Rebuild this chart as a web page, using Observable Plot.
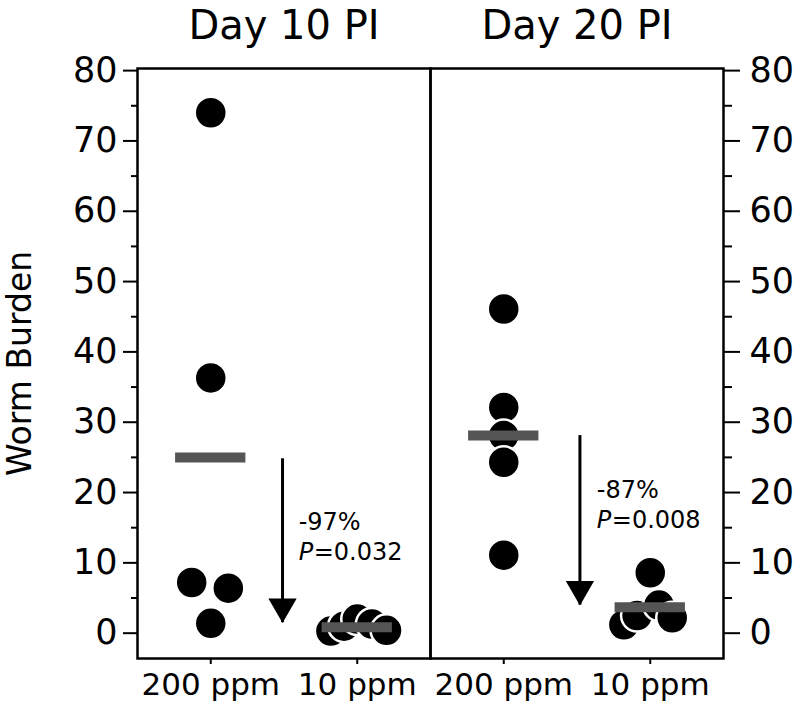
<!DOCTYPE html>
<html><head><meta charset="utf-8">
<script src="https://cdn.jsdelivr.net/npm/d3@7"></script>
<script src="https://cdn.jsdelivr.net/npm/@observablehq/plot@0.6"></script>
<style>body{margin:0;background:#fff} svg{font-family:"DejaVu Sans",sans-serif}</style>
</head><body><div id="chart"></div>
<script>
// ---- data ----
const days = ["Day 10 PI", "Day 20 PI"];
const doses = ["200 ppm", "10 ppm"];
const burdenD10_200 = [74, 36.3, 7.2, 6.4, 1.4];
const burdenD10_10 = [0.3, 1.0, 2.0, 1.3, 0.4];
const burdenD20_200 = [46.1, 32.1, 28.1, 24.3, 11.1];
const burdenD20_10 = [8.6, 1.2, 2.5, 4.0, 2.2];
// horizontal scatter of each dot within its group (in units of group spacing)
const jitterD10_200 = [0, 0, -0.13, 0.12, 0];
const jitterD10_10 = [-0.18, -0.09, 0, 0.1, 0.2];
const jitterD20_200 = [0, 0, 0, 0, 0];
const jitterD20_10 = [0, -0.18, -0.09, 0.06, 0.15];
const meansD10 = [25.0, 0.85];
const meansD20 = [28.1, 3.7];
const arrowTop = [24.8, 28.1];
const arrowTip = [1.5, 4.0];
const reductions = ["-97%", "-87%"];
const pValues = ["=0.032", "=0.008"];
const yTicks = [0, 10, 20, 30, 40, 50, 60, 70, 80];
const yMinorTicks = [5, 15, 25, 35, 45, 55, 65, 75];

// ---- tables ----
const groups = [
  [days[0], 0, burdenD10_200, jitterD10_200],
  [days[0], 1, burdenD10_10, jitterD10_10],
  [days[1], 0, burdenD20_200, jitterD20_200],
  [days[1], 1, burdenD20_10, jitterD20_10]
];
const points = groups.flatMap(([day, cat, vals, jit]) =>
  vals.map((v, i) => ({day, xpos: cat + jit[i], burden: v})));
const means = [
  {day: days[0], cat: 0, mean: meansD10[0]}, {day: days[0], cat: 1, mean: meansD10[1]},
  {day: days[1], cat: 0, mean: meansD20[0]}, {day: days[1], cat: 1, mean: meansD20[1]}
];
const arrows = days.map((day, i) => ({day, top: arrowTop[i], tip: arrowTip[i], red: reductions[i], p: pValues[i]}));
const annY1 = [15.8, 20.3];
const annY2 = [11.5, 16.1];
arrows.forEach((a, i) => { a.y1 = annY1[i]; a.y2 = annY2[i]; });

const arrowX = d => d.day === days[0] ? 0.49 : 0.52;
const textX = d => d.day === days[0] ? 0.60 : 0.635;

const chart = Plot.plot({
  width: 800, height: 720,
  marginLeft: 136, marginRight: 77, marginTop: 68, marginBottom: 62,
  style: {fontFamily: "DejaVu Sans", color: "black", background: "white"},
  fx: {domain: days, padding: 0, label: null},
  x: {domain: [-0.5, 1.5]},
  y: {domain: [-3.6, 80.3]},
  marks: [
    Plot.frame({stroke: "black", strokeWidth: 2.5}),
    Plot.axisFx({anchor: "top", tickSize: 0, tickPadding: 30, fontSize: 40, label: null}),
    Plot.axisX({ticks: [0, 1], tickFormat: i => doses[i], tickSize: 6, tickPadding: 8, fontSize: 31, label: null, strokeWidth: 2}),
    Plot.axisY({anchor: "left", ticks: yTicks, tickSize: 14, tickPadding: 6, fontSize: 35, label: null, strokeWidth: 2}),
    Plot.axisY({anchor: "left", ticks: yMinorTicks, tickSize: 6, tickFormat: () => "", label: null, strokeWidth: 2}),
    Plot.axisY({anchor: "right", ticks: yTicks, tickSize: 16, tickPadding: 10, fontSize: 35, label: null, strokeWidth: 2}),
    Plot.axisY({anchor: "right", ticks: yMinorTicks, tickSize: 8, tickFormat: () => "", label: null, strokeWidth: 2}),
    Plot.axisY({anchor: "left", ticks: [], label: "Worm Burden", labelAnchor: "center", labelArrow: "none", labelOffset: 130, fontSize: 33}),
    Plot.dot(points, {fx: "day", x: "xpos", y: "burden", r: 16, fill: "black", stroke: "white", strokeWidth: 2.5}),
    Plot.ruleY(means, {fx: "day", x1: d => d.cat - 0.24, x2: d => d.cat + 0.24, y: "mean", stroke: "#555", strokeWidth: 10}),
    Plot.ruleX(arrows, {fx: "day", x: arrowX, y1: "top", y2: "tip", stroke: "black", strokeWidth: 3}),
    Plot.dot(arrows, {fx: "day", x: arrowX, y: "tip", symbol: "triangle", rotate: 180, r: 10.5, fill: "black", dy: -16}),
    Plot.text(arrows, {fx: "day", x: textX, y: "y1", text: "red", textAnchor: "start", fontSize: 24, fill: "black"}),
    Plot.text(arrows, {fx: "day", x: textX, y: "y2", text: () => "P", fontStyle: "italic", textAnchor: "start", fontSize: 24, fill: "black"}),
    Plot.text(arrows, {fx: "day", x: textX, y: "y2", text: "p", textAnchor: "start", fontSize: 24, dx: 15, fill: "black"})
  ]
});
document.getElementById("chart").appendChild(chart);
</script>
</body></html>
